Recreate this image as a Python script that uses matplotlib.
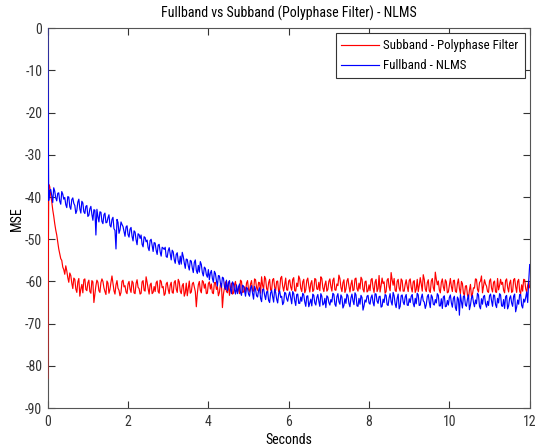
import numpy as np
import matplotlib
matplotlib.use("Agg")
import matplotlib.pyplot as plt
from matplotlib import font_manager

names = {f.name for f in font_manager.fontManager.ttflist}
fam = "Liberation Sans"
for cand in ["Liberation Sans Narrow", "DejaVu Sans Condensed", "Roboto Condensed", "Open Sans Condensed"]:
    if cand in names:
        fam = cand
        break
plt.rcParams['font.family'] = [fam, 'DejaVu Sans']
plt.rcParams['axes.unicode_minus'] = False

title = "Fullband vs Subband (Polyphase Filter) - NLMS"
xlabel = "Seconds"
ylabel = "MSE"
labels = ["Subband - Polyphase Filter", "Fullband - NLMS"]

# samples at t = 0, 0.05, ..., 12
blue_main = [0.0,
 -38.5, -39.6, -37.8, -40.2, -39.1, -41.0, -38.7, -40.5, -41.8, -39.9, -42.3, -40.6, -41.5, -43.9, -41.2, -42.8, -41.0, -43.5, -42.2, -44.6,
 -42.8, -44.1, -43.0, -49.0, -44.6, -43.5, -45.8, -44.2, -46.1, -44.9, -46.7, -45.3, -47.5, -52.3, -46.0, -47.8, -46.5, -48.2, -47.1, -48.9,
 -47.6, -49.3, -48.0, -50.1, -48.7, -49.8, -51.2, -49.4, -50.6, -52.0, -50.3, -51.5, -50.8, -52.6, -51.4, -53.0, -51.9, -52.4, -54.1, -52.7,
 -53.5, -52.6, -54.8, -53.6, -55.2, -54.0, -53.1, -55.6, -54.7, -56.3, -55.0, -56.8, -55.5, -57.4, -56.2, -55.3, -57.9, -56.6, -58.4, -57.2,
 -58.0, -59.3, -57.6, -59.8, -58.6, -60.4, -59.0, -61.2, -59.7, -60.5, -61.8, -60.1, -62.0, -60.8, -61.5, -62.6, -60.9, -62.2, -61.4, -63.0,
 -61.6, -62.8, -61.2, -63.4, -62.1, -64.0, -61.9, -63.2, -62.5, -64.5, -62.7, -63.6, -61.8, -64.2, -62.9, -63.8, -65.5, -62.6, -64.1, -63.3,
 -63.9, -62.4, -64.6, -63.1, -65.2, -63.7, -62.8, -64.9, -63.5, -66.0, -64.2, -63.0, -65.1, -63.8, -64.7, -62.9, -65.6, -64.0, -63.4, -65.0,
 -64.3, -62.8, -65.4, -63.6, -64.8, -63.2, -66.3, -64.1, -63.0, -65.2, -63.9, -64.6, -62.7, -65.8, -64.0, -63.3, -66.8, -64.4, -63.5, -65.1,
 -63.8, -65.0, -62.9, -64.7, -63.6, -66.1, -64.2, -63.1, -65.5, -63.9, -64.8, -62.6, -65.3, -64.0, -66.5, -63.4, -64.9, -63.7, -65.6, -64.1,
 -63.5, -65.2, -64.0, -62.8, -65.7, -63.9, -64.6, -66.4, -63.6, -64.9, -63.2, -65.4, -64.3, -62.9, -65.8, -64.1, -63.7, -66.0, -64.5, -63.8,
 -65.1, -64.0, -66.2, -63.7, -68.0, -64.8, -63.5, -65.6, -64.2, -66.7, -63.9, -65.0, -64.4, -62.8, -65.9, -64.1, -63.6, -65.3, -64.7, -63.4,
 -64.6, -63.2, -65.5, -64.0, -62.9, -65.8, -64.3, -63.6, -66.5, -64.0, -65.1, -63.5, -67.2, -64.4, -63.1, -65.7, -64.2, -63.8, -65.0, -56.0]

# samples at t = 0.025, 0.075, ..., 11.975
blue_mid = [
 -40.8, -38.2, -41.3, -38.6, -40.9, -39.0, -41.7, -39.3, -40.1, -42.5, -40.0, -42.9, -40.2, -42.0, -43.2, -40.5, -43.8, -41.4, -43.9, -42.0,
 -44.3, -42.2, -45.5, -43.1, -42.9, -45.9, -43.6, -46.3, -43.8, -46.0, -44.2, -47.1, -44.8, -47.9, -45.3, -48.6, -45.9, -47.0, -49.3, -46.8,
 -49.5, -47.2, -50.4, -48.3, -51.3, -48.9, -49.0, -51.8, -49.6, -50.2, -52.7, -50.0, -52.9, -50.9, -53.6, -51.2, -54.0, -52.1, -51.9, -54.3,
 -52.0, -54.9, -53.0, -55.7, -53.2, -56.0, -55.9, -54.1, -56.9, -54.8, -57.3, -55.2, -57.9, -54.9, -58.1, -57.8, -56.0, -58.7, -56.9, -59.0,
 -59.6, -57.4, -60.2, -58.1, -61.1, -58.7, -61.4, -59.2, -61.9, -62.2, -59.8, -62.9, -60.5, -63.0, -62.9, -60.6, -63.3, -61.1, -63.5, -61.7,
 -63.5, -61.0, -64.2, -61.9, -63.7, -61.5, -64.8, -61.8, -64.3, -62.3, -65.0, -62.1, -64.9, -62.6, -65.1, -62.2, -63.5, -65.0, -62.8, -64.7,
 -62.5, -65.3, -62.9, -65.7, -63.0, -65.2, -64.7, -63.2, -65.9, -63.4, -65.1, -65.8, -63.3, -65.6, -63.1, -65.9, -63.5, -65.3, -66.2, -63.7,
 -65.6, -64.9, -63.1, -65.9, -62.9, -65.4, -63.7, -65.7, -65.2, -63.4, -66.0, -63.0, -65.5, -63.2, -65.9, -65.4, -63.8, -65.8, -64.9, -63.3,
 -65.4, -63.2, -65.8, -63.0, -65.2, -63.5, -65.9, -65.0, -63.3, -65.7, -62.9, -65.6, -63.4, -66.2, -63.0, -65.9, -63.2, -65.5, -63.1, -65.7,
 -65.0, -63.1, -66.0, -65.3, -63.2, -65.6, -63.0, -64.9, -65.5, -63.1, -66.2, -63.7, -65.6, -65.1, -63.3, -65.8, -66.4, -63.4, -65.9, -65.6,
 -63.2, -66.1, -63.5, -66.9, -64.2, -63.1, -66.3, -63.4, -65.9, -63.2, -65.6, -63.3, -66.0, -65.3, -63.2, -66.5, -65.4, -63.3, -66.1, -65.7,
 -63.0, -65.9, -63.3, -66.2, -65.1, -63.2, -65.9, -66.4, -63.3, -65.8, -63.4, -65.9, -63.0, -66.1, -65.4, -63.1, -66.3, -64.9, -62.5, -60.0]

red_main = [-83.0,
 -37.5, -41.0, -44.5, -47.8, -50.6, -53.4, -55.0, -57.2, -56.3, -59.1, -58.0, -60.4, -59.2, -61.8, -60.1, -63.5, -60.7, -59.6, -61.9, -60.3,
 -62.4, -59.8, -65.0, -61.0, -60.2, -62.6, -59.4, -61.5, -63.1, -60.4, -61.9, -58.7, -62.2, -60.8, -61.6, -63.4, -60.0, -61.3, -62.5, -60.6,
 -61.8, -59.9, -62.7, -60.5, -61.4, -63.0, -60.1, -62.1, -58.9, -61.7, -60.8, -62.9, -61.2, -60.3, -62.4, -59.7, -61.5, -63.3, -60.6, -61.9,
 -60.9, -62.6, -60.2, -61.8, -59.5, -62.3, -61.0, -63.5, -60.4, -61.7, -62.8, -60.6, -61.3, -66.0, -60.8, -62.1, -59.8, -61.6, -62.9, -60.5,
 -61.8, -62.7, -60.3, -61.9, -63.4, -60.7, -66.2, -61.5, -62.4, -60.1, -61.7, -63.0, -60.8, -62.2, -61.1, -59.7, -62.6, -61.3, -60.4, -62.0,
 -60.6, -62.3, -59.4, -61.5, -60.2, -62.8, -60.9, -58.8, -61.7, -60.3, -62.1, -59.6, -61.4, -60.0, -62.5, -59.2, -61.1, -60.7, -62.0, -59.9,
 -61.3, -59.5, -62.2, -60.4, -58.7, -61.6, -60.1, -62.7, -59.8, -61.0, -60.5, -62.4, -59.3, -61.8, -60.2, -58.9, -61.5, -60.8, -62.3, -60.0,
 -61.2, -59.7, -62.0, -60.6, -58.5, -61.4, -60.3, -62.6, -59.9, -61.1, -60.7, -62.2, -59.4, -61.7, -60.4, -59.0, -61.9, -60.1, -62.5, -60.8,
 -59.6, -61.5, -60.2, -62.4, -58.6, -61.0, -60.5, -62.8, -59.7, -61.3, -57.9, -60.9, -62.1, -60.0, -61.6, -59.4, -62.3, -60.7, -61.2, -59.8,
 -61.4, -60.1, -62.6, -59.5, -61.0, -60.6, -58.4, -61.8, -60.3, -62.2, -59.9, -61.5, -57.8, -60.8, -62.0, -60.2, -61.3, -59.6, -62.7, -60.9,
 -61.2, -59.8, -62.3, -60.5, -61.7, -60.0, -62.8, -61.1, -63.2, -62.0, -63.6, -61.5, -59.4, -61.9, -60.3, -58.7, -61.2, -60.6, -62.4, -59.9,
 -61.6, -60.2, -62.5, -59.3, -61.0, -60.7, -62.1, -59.8, -61.4, -60.4, -62.6, -59.6, -61.2, -60.0, -62.3, -60.8, -59.5, -61.7, -60.9, -61.5]

red_mid = [
 -37.0, -39.5, -43.0, -46.3, -49.0, -52.3, -54.6, -56.6, -58.3, -57.5, -60.2, -58.6, -61.7, -59.5, -62.6, -59.3, -61.8, -62.7, -59.4, -62.2,
 -59.7, -62.8, -60.1, -62.9, -59.7, -62.2, -60.3, -60.0, -62.4, -59.9, -62.8, -60.2, -60.4, -63.0, -59.8, -62.1, -62.6, -59.7, -61.0, -62.9,
 -60.0, -62.6, -60.3, -62.9, -59.6, -61.7, -62.8, -59.8, -62.3, -60.2, -63.0, -60.4, -62.6, -62.4, -59.9, -62.8, -60.0, -61.2, -62.9, -60.2,
 -62.9, -60.2, -62.8, -59.8, -62.6, -60.1, -62.9, -60.5, -62.7, -63.4, -59.9, -62.5, -60.2, -62.4, -62.9, -60.0, -62.7, -60.1, -60.6, -62.8,
 -60.1, -60.6, -62.9, -60.2, -61.2, -62.6, -60.5, -63.0, -60.1, -62.7, -63.3, -60.4, -62.8, -60.0, -62.6, -62.9, -60.0, -62.5, -62.6, -59.8,
 -62.5, -59.8, -62.3, -59.6, -62.1, -60.3, -58.9, -61.9, -59.4, -62.3, -59.5, -62.0, -59.3, -62.2, -59.9, -61.9, -58.8, -62.3, -59.2, -62.1,
 -59.6, -62.1, -59.1, -62.3, -61.2, -59.4, -62.4, -59.5, -62.0, -59.2, -62.5, -59.8, -62.0, -59.5, -61.9, -62.2, -59.3, -62.4, -59.9, -61.9,
 -59.4, -62.3, -59.2, -62.1, -61.0, -59.3, -62.4, -59.6, -61.8, -59.3, -62.5, -59.7, -62.0, -59.2, -62.3, -61.8, -59.5, -62.5, -59.9, -62.2,
 -62.2, -59.3, -62.6, -59.5, -61.7, -62.5, -59.2, -60.1, -62.4, -59.3, -62.2, -59.6, -59.3, -62.4, -59.5, -62.3, -59.8, -62.3, -59.6, -62.4,
 -59.4, -62.5, -59.8, -61.9, -62.4, -59.1, -62.3, -59.5, -62.4, -59.6, -62.6, -59.3, -62.3, -59.5, -59.9, -62.7, -59.4, -62.2, -60.1, -62.5,
 -59.3, -62.4, -59.7, -62.6, -59.4, -62.9, -60.5, -63.3, -61.0, -64.0, -60.7, -63.0, -61.6, -59.5, -62.5, -59.9, -62.7, -59.6, -61.1, -62.6,
 -59.4, -62.5, -59.9, -62.6, -62.0, -59.5, -60.2, -62.7, -59.4, -62.5, -59.7, -62.4, -59.3, -62.6, -59.5, -62.9, -62.3, -59.6, -62.6, -60.0]


def interleave(main, mid):
    t_main = np.linspace(0, 12, len(main))
    t_mid = t_main[:-1] + (t_main[1] - t_main[0]) / 2
    t = np.empty(len(main) + len(mid))
    v = np.empty_like(t)
    t[0::2], t[1::2] = t_main, t_mid
    v[0::2], v[1::2] = main, mid
    return t, v


t_r, v_r = interleave(red_main, red_mid)
t_b, v_b = interleave(blue_main, blue_mid)

fig = plt.figure(figsize=(5.42, 4.48), dpi=100)
ax = fig.add_axes([47.7/542, 40/448, 482/542, 379.7/448])
ax.plot(t_r, v_r, color='#ff0000', lw=0.85, label=labels[0], zorder=3)
ax.plot(t_b, v_b, color='#0000ff', lw=0.85, label=labels[1], zorder=3)
ax.set_xlim(0, 12)
ax.set_ylim(-90, 0)
ax.set_xticks(np.arange(0, 13, 2))
ax.set_yticks(np.arange(-90, 1, 10))
ax.tick_params(direction='in', top=True, right=True, labelsize=10, length=5,
               colors='#333333')
ax.tick_params(axis='x', pad=5)
ax.tick_params(axis='y', pad=4)
for s in ax.spines.values():
    s.set_color('#555555')
    s.set_zorder(2.5)
ax.set_title(title, fontsize=10, pad=8)
ax.set_xlabel(xlabel, fontsize=10, labelpad=3)
ax.set_ylabel(ylabel, fontsize=10, labelpad=1)
leg = ax.legend(loc='upper right', fontsize=9.3, fancybox=False, framealpha=1,
                edgecolor='#333333', handlelength=2.9, handletextpad=0.35,
                borderaxespad=0.4, borderpad=0.45, labelspacing=0.55)
leg.set_zorder(5)
leg.get_frame().set_linewidth(0.8)
fig.savefig("out.png", dpi=100)
